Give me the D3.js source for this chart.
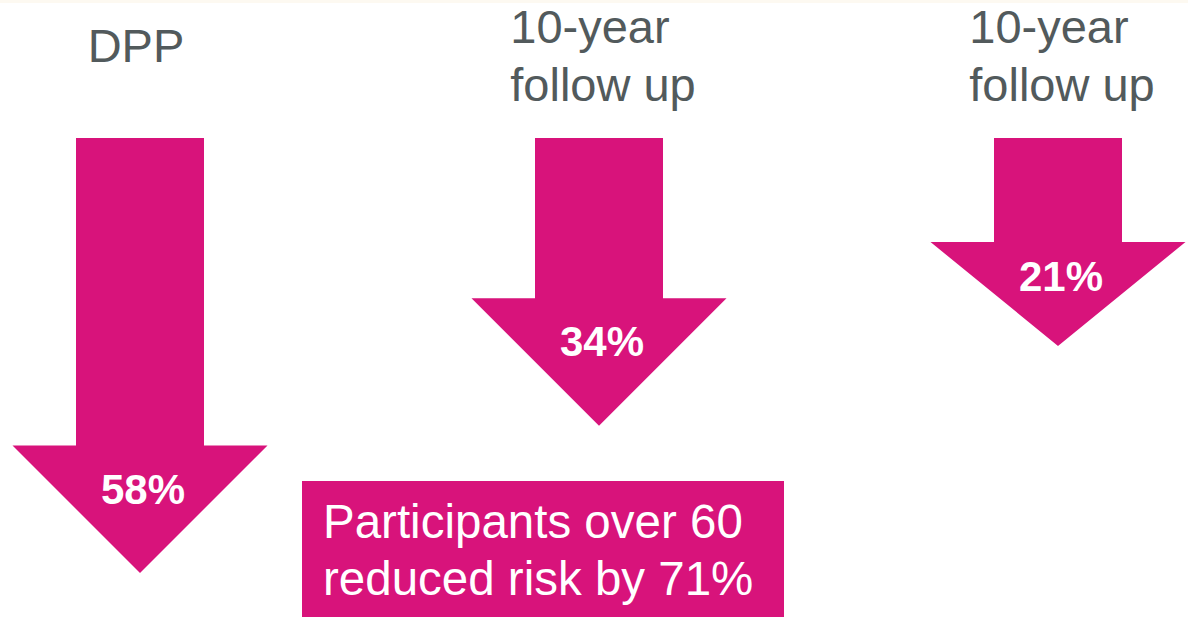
<!DOCTYPE html>
<html>
<head>
<meta charset="utf-8">
<script src="https://cdn.jsdelivr.net/npm/d3@7"></script>
<style>
  html, body { margin: 0; padding: 0; background: #fff; }
  svg { display: block; font-family: "Liberation Sans", Arial, sans-serif; }
</style>
</head>
<body>
<svg id="chart" width="1188" height="617"></svg>
<script>
// reductions in diabetes risk, one arrow per study phase
var categories = ['DPP', 'FU1', 'FU2'];
var titles = [['DPP'], ['10-year', 'follow up'], ['10-year', 'follow up']];
var reductions = [58, 34, 21];
var noteLines = ['Participants over 60', 'reduced risk by 71%'];

var pink = '#d8137b';
var grey = '#525a5c';

var svg = d3.select('#chart');

// faint strip at the very top of the slide
svg.append('rect').attr('x', 0).attr('y', 0).attr('width', 1188).attr('height', 3)
    .attr('fill', '#fdf9f1');

var x = d3.scalePoint().domain(categories).range([140, 1058]);
// arrow length grows with the size of the reduction
var len = d3.scaleLinear().domain([21, 58]).range([208, 435]);

var yTop = 138, headW = 255, shaftW = 128;

function headLen(L) { return Math.min(headW, L) * 0.5; }

function arrowPath(cx, L) {
    var head = headLen(L);
    var y2 = yTop + L - head;
    var p = d3.path();
    p.moveTo(cx - shaftW / 2, yTop);
    p.lineTo(cx + shaftW / 2, yTop);
    p.lineTo(cx + shaftW / 2, y2);
    p.lineTo(cx + headW / 2, y2);
    p.lineTo(cx, yTop + L);
    p.lineTo(cx - headW / 2, y2);
    p.lineTo(cx - shaftW / 2, y2);
    p.closePath();
    return p.toString();
}

var g = svg.selectAll('g.arrow')
    .data(categories)
    .enter().append('g').attr('class', 'arrow');

g.append('path')
    .attr('d', function (d, i) { return arrowPath(x(d), len(reductions[i])); })
    .attr('fill', pink);

g.append('text')
    .attr('x', function (d) { return x(d) + 3; })
    .attr('y', function (d, i) {
        var L = len(reductions[i]);
        var head = headLen(L);
        return yTop + L - head + head * 0.4 + 7;
    })
    .attr('text-anchor', 'middle')
    .attr('font-size', 42)
    .attr('font-weight', 'bold')
    .attr('fill', '#fff')
    .text(function (d, i) { return reductions[i] + '%'; });

// titles: block centred over the arrow, lines left aligned
g.each(function (d, i) {
    var t = d3.select(this).append('text')
        .attr('font-size', 47)
        .attr('fill', grey);
    titles[i].forEach(function (line, j) {
        t.append('tspan').attr('y', (titles[i].length === 1 ? 62 : 43) + j * 58).text(line);
    });
    var w = d3.max(t.selectAll('tspan').nodes(), function (n) { return n.getComputedTextLength(); });
    var shift = titles[i].length > 1 ? 4 : -4;
    t.selectAll('tspan').attr('x', x(d) - w / 2 + shift);
});

// side note box
var note = svg.append('g');
note.append('rect')
    .attr('x', 302).attr('y', 481).attr('width', 482).attr('height', 140)
    .attr('fill', pink);
note.selectAll('text')
    .data(noteLines)
    .enter().append('text')
    .attr('x', 323)
    .attr('y', function (d, i) { return 538 + i * 57; })
    .attr('font-size', 47.5)
    .attr('fill', '#fff')
    .text(function (d) { return d; });
</script>
</body>
</html>
